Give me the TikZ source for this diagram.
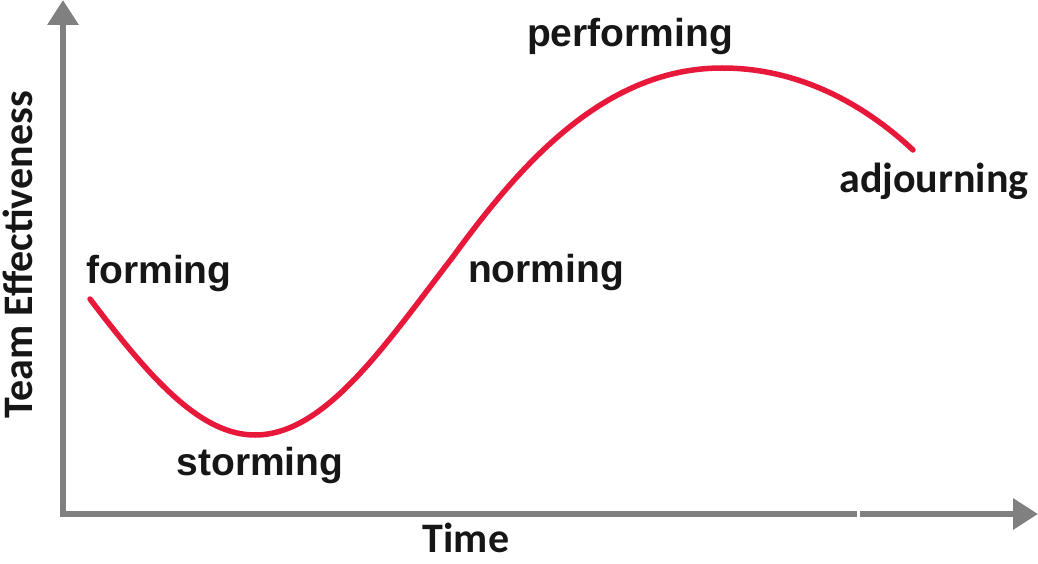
\documentclass[tikz,border=0pt]{standalone}
\usepackage{fontspec}
\setmainfont{Liberation Sans}
\newfontfamily\calfont{Carlito}
\usetikzlibrary{arrows.meta}
\definecolor{axisgray}{RGB}{128,128,128}
\definecolor{curvered}{RGB}{232,24,58}
\definecolor{txt}{RGB}{22,22,22}
\tikzset{
  axisline/.style={draw=axisgray, line width=6.5pt},
  axisarrow/.style={axisline, -{Triangle[length=25pt,width=30pt]}},
  curveline/.style={draw=curvered, line width=5.5pt, line cap=round},
  stagelabel/.style={anchor=base, inner sep=0pt, text=txt, font=\fontsize{39}{44}\selectfont\bfseries},
  axislabel/.style={anchor=base, inner sep=0pt, text=txt, font=\calfont\fontsize{42}{48}\selectfont\bfseries},
}
\begin{document}
\begin{tikzpicture}[x=1pt,y=-1pt]
\useasboundingbox (0,0) rectangle (1038,564);
% axes
\coordinate (origin) at (63,514);
\coordinate (ytop) at (63,0);
\coordinate (xgapL) at (857,514);
\coordinate (xgapR) at (860,514);
\coordinate (xend) at (1038,514);
\coordinate (xstart) at (59.75,514);
\draw[axisarrow] (origin) -- (ytop);
\draw[axisline] (xstart) -- (xgapL);
\draw[axisarrow] (xgapR) -- (xend);
% curve
\coordinate (A) at (90,299);
\coordinate (B) at (255,435);
\coordinate (I) at (452,258);
\coordinate (C) at (722,68);
\coordinate (D) at (913,150);
\draw[curveline] (A) .. controls (150,378) and (200,435) .. (B)
  .. controls (325,435) and (385,345) .. (I)
  .. controls (515,172) and (600,68) .. (C)
  .. controls (800,68) and (865,105) .. (D);
% labels
\node[stagelabel] (forming) at (159,283) {forming};
\node[stagelabel] (storming) at (260,475) {storming};
\node[stagelabel] (norming) at (546,282) {norming};
\node[stagelabel] (performing) at (630,47) {performing};
\node[axislabel] (adjourning) at (934,193) {adjourning};
\node[axislabel] (time) at (466,552) {Time};
\node[axislabel, rotate=90] (teff) at (32,255) {Team Effectiveness};
\end{tikzpicture}
\end{document}
